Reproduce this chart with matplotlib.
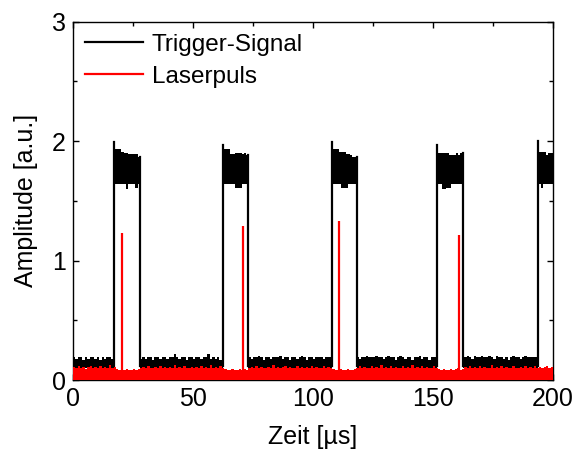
import numpy as np
import matplotlib
matplotlib.use('Agg')
import matplotlib.pyplot as plt
from matplotlib.lines import Line2D

plt.rcParams['font.family'] = ['Liberation Sans', 'DejaVu Sans']

# trigger pulses (µs)
rise = [17.3, 62.7, 108.0, 151.7, 193.8]
fall = [28.0, 73.1, 118.2, 162.3, 200.0]
overshoot = [1.99, 1.97, 1.99, 1.97, 2.00]

# noisy high level of each pulse, upper / lower edge of the band
high_top = [
    [1.93, 1.93, 1.93, 1.91, 1.90, 1.90, 1.89, 1.89, 1.89, 1.89, 1.87],
    [1.93, 1.93, 1.93, 1.89, 1.89, 1.90, 1.90, 1.90, 1.89, 1.90, 1.88],
    [1.93, 1.93, 1.93, 1.91, 1.91, 1.91, 1.89, 1.89, 1.88, 1.87, 1.87],
    [1.90, 1.90, 1.90, 1.90, 1.90, 1.88, 1.88, 1.88, 1.90, 1.88, 1.90],
    [1.91, 1.91, 1.91, 1.88, 1.90, 1.90],
]
high_bot = [
    [1.64, 1.64, 1.64, 1.64, 1.64, 1.60, 1.64, 1.64, 1.64, 1.61, 1.64],
    [1.64, 1.64, 1.64, 1.64, 1.64, 1.61, 1.61, 1.61, 1.64, 1.64, 1.64],
    [1.64, 1.64, 1.64, 1.64, 1.61, 1.61, 1.61, 1.64, 1.64, 1.64, 1.64],
    [1.64, 1.64, 1.60, 1.60, 1.61, 1.61, 1.64, 1.64, 1.64, 1.64, 1.64],
    [1.64, 1.61, 1.64, 1.64, 1.64, 1.64],
]

# low level of trigger, top of noise band per 1 µs bin (0..199)
low_top = [
    0.19, 0.18, 0.19, 0.19, 0.17, 0.19, 0.18, 0.19, 0.19, 0.18,
    0.19, 0.17, 0.19, 0.18, 0.19, 0.19, 0.18, 0.19, 0.19, 0.19,
    0.19, 0.19, 0.19, 0.19, 0.19, 0.19, 0.19, 0.19, 0.18, 0.19,
    0.18, 0.19, 0.19, 0.17, 0.19, 0.19, 0.18, 0.19, 0.19, 0.18,
    0.19, 0.19, 0.22, 0.19, 0.18, 0.19, 0.19, 0.17, 0.19, 0.19,
    0.18, 0.19, 0.19, 0.18, 0.19, 0.19, 0.22, 0.18, 0.19, 0.18,
    0.19, 0.17, 0.19, 0.19, 0.19, 0.19, 0.19, 0.19, 0.19, 0.19,
    0.19, 0.19, 0.19, 0.19, 0.18, 0.19, 0.19, 0.20, 0.19, 0.17,
    0.19, 0.19, 0.18, 0.19, 0.19, 0.19, 0.20, 0.18, 0.19, 0.19,
    0.17, 0.19, 0.19, 0.18, 0.19, 0.20, 0.19, 0.17, 0.19, 0.19,
    0.18, 0.19, 0.19, 0.19, 0.18, 0.19, 0.19, 0.19, 0.19, 0.19,
    0.19, 0.19, 0.19, 0.19, 0.19, 0.19, 0.19, 0.19, 0.19, 0.18,
    0.19, 0.19, 0.20, 0.19, 0.19, 0.19, 0.20, 0.19, 0.19, 0.18,
    0.19, 0.20, 0.19, 0.19, 0.17, 0.19, 0.20, 0.19, 0.18, 0.19,
    0.19, 0.17, 0.19, 0.19, 0.20, 0.18, 0.19, 0.19, 0.17, 0.19,
    0.19, 0.19, 0.19, 0.19, 0.19, 0.19, 0.19, 0.19, 0.19, 0.19,
    0.19, 0.19, 0.19, 0.19, 0.20, 0.19, 0.18, 0.20, 0.19, 0.19,
    0.20, 0.19, 0.19, 0.20, 0.19, 0.18, 0.20, 0.19, 0.19, 0.18,
    0.19, 0.17, 0.19, 0.20, 0.19, 0.19, 0.18, 0.19, 0.20, 0.19,
    0.19, 0.19, 0.19, 0.19, 0.19, 0.19, 0.19, 0.19, 0.19, 0.19,
]
low_bot = 0.10

# laser signal: top of baseline noise per 1 µs bin (0..199)
laser_top = [
    0.11, 0.10, 0.12, 0.10, 0.11, 0.09, 0.11, 0.12, 0.10, 0.11,
    0.10, 0.12, 0.10, 0.11, 0.10, 0.13, 0.10, 0.11, 0.09, 0.08,
    0.09, 0.08, 0.09, 0.08, 0.08, 0.09, 0.08, 0.09, 0.10, 0.11,
    0.10, 0.12, 0.10, 0.10, 0.11, 0.10, 0.12, 0.10, 0.11, 0.10,
    0.11, 0.10, 0.13, 0.10, 0.11, 0.10, 0.12, 0.10, 0.10, 0.11,
    0.10, 0.11, 0.10, 0.12, 0.10, 0.11, 0.10, 0.13, 0.10, 0.11,
    0.10, 0.12, 0.10, 0.09, 0.08, 0.08, 0.09, 0.08, 0.08, 0.09,
    0.08, 0.09, 0.08, 0.10, 0.11, 0.10, 0.12, 0.10, 0.11, 0.10,
    0.10, 0.11, 0.10, 0.13, 0.10, 0.11, 0.10, 0.11, 0.12, 0.10,
    0.11, 0.10, 0.10, 0.12, 0.10, 0.11, 0.10, 0.11, 0.10, 0.12,
    0.10, 0.11, 0.10, 0.10, 0.12, 0.10, 0.11, 0.10, 0.09, 0.08,
    0.08, 0.09, 0.08, 0.08, 0.09, 0.08, 0.08, 0.09, 0.10, 0.12,
    0.10, 0.11, 0.10, 0.10, 0.12, 0.10, 0.11, 0.10, 0.13, 0.10,
    0.11, 0.10, 0.12, 0.10, 0.11, 0.10, 0.10, 0.12, 0.10, 0.11,
    0.10, 0.13, 0.10, 0.11, 0.10, 0.12, 0.10, 0.11, 0.10, 0.10,
    0.12, 0.10, 0.09, 0.08, 0.09, 0.08, 0.08, 0.09, 0.08, 0.09,
    0.10, 0.08, 0.09, 0.11, 0.10, 0.12, 0.10, 0.11, 0.10, 0.12,
    0.10, 0.11, 0.10, 0.10, 0.13, 0.10, 0.11, 0.10, 0.12, 0.10,
    0.11, 0.10, 0.10, 0.12, 0.10, 0.10, 0.11, 0.10, 0.12, 0.10,
    0.11, 0.10, 0.12, 0.10, 0.11, 0.10, 0.11, 0.12, 0.10, 0.11,
]
spike_t = [20.6, 71.0, 110.9, 160.9]
spike_h = [1.23, 1.29, 1.33, 1.21]


def step_fill(ax, edges, lo, hi, color, z):
    hi = np.append(hi, hi[-1])
    lo = np.broadcast_to(lo, hi.shape)
    ax.fill_between(edges, lo, hi, step='post', color=color, lw=0, zorder=z)


fig = plt.figure(figsize=(5.78, 4.59), dpi=100)
ax = fig.add_axes([0.126, 0.172, 0.831, 0.781])

# trigger, low level between pulses
starts = [0.0] + fall[:-1]
ends = rise
for s, e in zip(starts, ends):
    i0, i1 = int(np.floor(s)), int(np.ceil(e))
    edges = [s] + list(range(i0 + 1, i1)) + [e]
    step_fill(ax, edges, low_bot, np.array(low_top[i0:i1]), 'black', 2)

# trigger, pulses
for r, f, ov, top, bot in zip(rise, fall, overshoot, high_top, high_bot):
    edges = np.linspace(r, f, len(top) + 1)
    ax.fill_between(edges, np.append(bot, bot[-1]), np.append(top, top[-1]),
                    step='post', color='black', lw=0, zorder=2)
    ax.plot([r, r], [low_bot + 0.02, ov], color='black', lw=1.6, zorder=2)
    if f < 200:
        ax.plot([f, f], [low_bot + 0.02, top[-1]], color='black', lw=1.6, zorder=2)

# laser pulses
step_fill(ax, np.arange(201), 0.0, np.array(laser_top), 'red', 3)
ax.vlines(spike_t, 0, spike_h, colors='red', lw=1.6, zorder=3)

ax.set_xlim(0, 200)
ax.set_ylim(0, 3)
ax.set_xticks([0, 50, 100, 150, 200])
ax.set_xticks([25, 75, 125, 175], minor=True)
ax.set_yticks([0, 1, 2, 3])
ax.set_yticks([0.5, 1.5, 2.5], minor=True)
ax.tick_params(which='both', direction='in', top=True, right=True, width=1.0)
ax.tick_params(which='major', length=4, labelsize=18, pad=5)
ax.tick_params(which='minor', length=3)
for sp in ax.spines.values():
    sp.set_linewidth(1.0)

ax.set_xlabel('Zeit [µs]', fontsize=18, labelpad=10)
ax.set_ylabel('Amplitude [a.u.]', fontsize=18, labelpad=10)

handles = [Line2D([], [], color='black', lw=1.6), Line2D([], [], color='red', lw=1.6)]
ax.legend(handles, ['Trigger-Signal', 'Laserpuls'], loc='upper left', frameon=False,
          fontsize=17.5, handlelength=2.4, handletextpad=0.35, labelspacing=0.42,
          borderaxespad=0.1, bbox_to_anchor=(0.0, 1.0))

fig.savefig('out.png', dpi=100)
